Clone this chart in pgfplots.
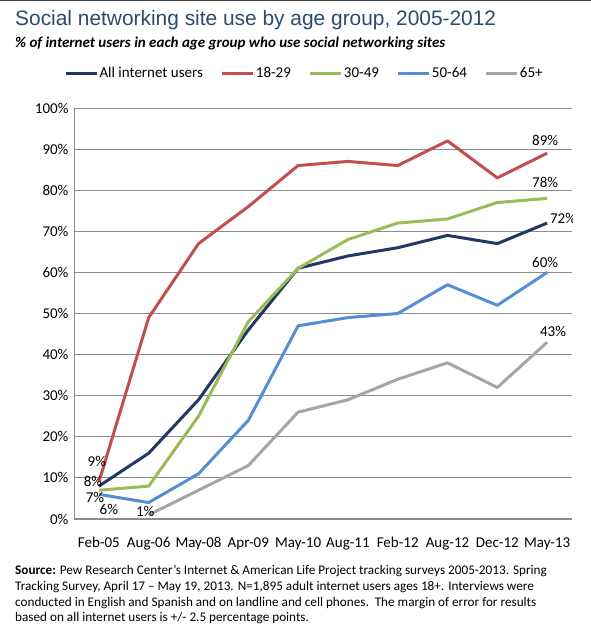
\documentclass[border=0pt]{standalone}
\usepackage{pgfplots}
\pgfplotsset{compat=1.18}
\usepackage{fontspec}
\setmainfont{Carlito}
\newfontfamily\titlefont{Liberation Sans}

\definecolor{allc}{HTML}{1F3864}
\definecolor{youngc}{HTML}{C0504D}
\definecolor{midc}{HTML}{9BBB59}
\definecolor{olderc}{HTML}{558ED5}
\definecolor{seniorc}{HTML}{A6A6A6}
\definecolor{titlec}{HTML}{2A4A6E}
\definecolor{gridc}{HTML}{8C8C8C}

\begin{document}
\begin{tikzpicture}
\path[use as bounding box] (0pt,0pt) rectangle (591pt,627pt);
\fill[black!75] (0pt,625.8pt) rectangle (591pt,627pt);

\node[anchor=west, inner sep=0, text=titlec, font=\titlefont\fontsize{20.9}{24}\selectfont] at (15pt,607pt)
  {Social networking site use by age group, 2005-2012};
\node[anchor=west, inner sep=0, font=\bfseries\itshape\fontsize{15}{18}\selectfont] at (15pt,583pt)
  {\% of internet users in each age group who use social networking sites};

\begin{axis}[
    at={(74pt,108pt)}, anchor=south west,
    scale only axis, width=498pt, height=411pt,
    xmin=-0.5, xmax=9.5, ymin=0, ymax=100,
    xtick={0,...,9},
    xticklabels={Feb-05,Aug-06,May-08,Apr-09,May-10,Aug-11,Feb-12,Aug-12,Dec-12,May-13},
    ytick={0,10,...,100},
    yticklabels={0\%,10\%,20\%,30\%,40\%,50\%,60\%,70\%,80\%,90\%,100\%},
    ticklabel style={font=\fontsize{15}{18}\selectfont},
    xticklabel style={yshift=-15pt},
    yticklabel style={xshift=-2pt},
    major tick length=0pt,
    axis lines*=left,
    axis line style={gridc, line width=1pt, -},
    ymajorgrids, grid style={gridc, line width=0.9pt},
    every axis plot/.append style={line width=3pt, line join=round, no markers},
    legend columns=-1,
    legend style={at={(0.462,1.085)}, anchor=center, draw=none, fill=none,
        font=\fontsize{15}{18}\selectfont,
        /tikz/every even column/.append style={column sep=17pt},
        nodes={inner sep=1pt}},
    legend image code/.code={\draw[#1, line width=3pt] (0pt,0pt) -- (31pt,0pt);},
]
\addplot[allc] coordinates {(0,8) (1,16) (2,29) (3,46) (4,61) (5,64) (6,66) (7,69) (8,67) (9,72)};
\addlegendentry{All internet users}
\addplot[youngc] coordinates {(0,9) (1,49) (2,67) (3,76) (4,86) (5,87) (6,86) (7,92) (8,83) (9,89)};
\addlegendentry{18-29}
\addplot[midc] coordinates {(0,7) (1,8) (2,25) (3,48) (4,61) (5,68) (6,72) (7,73) (8,77) (9,78)};
\addlegendentry{30-49}
\addplot[olderc] coordinates {(0,6) (1,4) (2,11) (3,24) (4,47) (5,49) (6,50) (7,57) (8,52) (9,60)};
\addlegendentry{50-64}
\addplot[seniorc] coordinates {(1,1) (2,7) (3,13) (4,26) (5,29) (6,34) (7,38) (8,32) (9,43)};
\addlegendentry{65+}

\begin{scope}[every node/.style={font=\fontsize{15}{18}\selectfont, inner sep=0}]
\node at (axis cs:-0.04,14.1) {9\%};
\node at (axis cs:-0.12,9.2) {8\%};
\node at (axis cs:-0.08,5.35) {7\%};
\node at (axis cs:0.2,2.3) {6\%};
\node at (axis cs:0.93,1.9) {1\%};
\node at (axis cs:8.96,92.2) {89\%};
\node at (axis cs:8.96,81.8) {78\%};
\node at (axis cs:9.32,73.2) {72\%};
\node at (axis cs:8.96,62.3) {60\%};
\node at (axis cs:9.12,45.7) {43\%};
\end{scope}
\end{axis}

\node[anchor=north west, inner sep=0, align=left, font=\fontsize{13.2}{15.8}\selectfont] at (15pt,62pt)
  {\textbf{Source:} Pew Research Center’s Internet \& American Life Project tracking surveys 2005-2013. Spring\\
   Tracking Survey, April 17 -- May 19, 2013. N=1,895 adult internet users ages 18+. Interviews were\\
   conducted in English and Spanish and on landline and cell phones.\ \ The margin of error for results\\
   based on all internet users is +/- 2.5 percentage points.};
\end{tikzpicture}
\end{document}
